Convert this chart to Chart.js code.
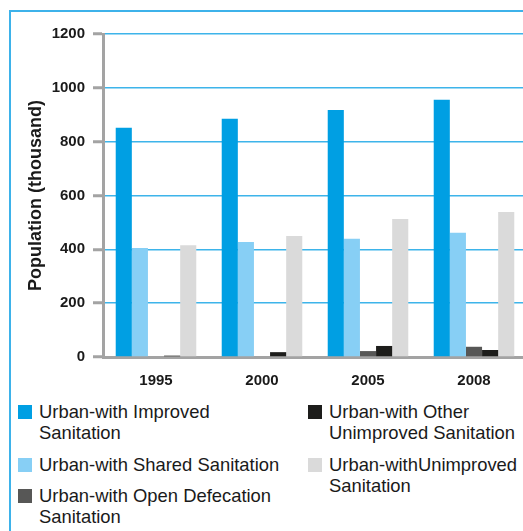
<!DOCTYPE html>
<html>
<head>
    <title>Urban population by sanitation</title>
    <script src="https://cdn.jsdelivr.net/npm/chart.js"></script>
    <style>
        body {
            margin: 0;
            width: 523px;
            height: 531px;
            overflow: hidden;
            position: relative;
            background: #fff;
            font-family: "Liberation Sans", Arial, sans-serif;
        }
        #frame {
            position: absolute;
            left: 9px;
            top: 10px;
            width: 700px;
            height: 700px;
            border-left: 2px solid #3db2ea;
            border-top: 2px solid #3db2ea;
        }
        #chart-box {
            position: absolute;
            left: 0;
            top: 0;
            width: 530px;
            height: 400px;
        }
        #legend {
            position: absolute;
            top: 401px;
            left: 18px;
            display: flex;
            font-size: 18.4px;
            line-height: 21px;
            color: #1a1a1a;
        }
        .col {
            display: flex;
            flex-direction: column;
        }
        .col + .col {
            margin-left: 22px;
        }
        .item {
            display: flex;
            align-items: flex-start;
            margin-bottom: 10.5px;
        }
        .swatch {
            width: 14px;
            height: 14px;
            margin-top: 4px;
            margin-right: 7px;
            flex: none;
        }
    </style>
</head>
<body>

<div id="frame"></div>
<div id="chart-box">
    <canvas id="barChart" width="530" height="400"></canvas>
</div>
<div id="legend"></div>

<script>
    // data (thousand people)
    const years = ['1995', '2000', '2005', '2008'];
    const improved = [852, 885, 918, 956];
    const shared = [405, 427, 439, 462];
    const openDefecation = [0, 0, 22, 38];
    const otherUnimproved = [5, 18, 41, 26];
    const unimproved = [415, 450, 513, 539];
    const yTicks = [0, 200, 400, 600, 800, 1000, 1200];

    const seriesNames = [
        ['Urban-with Improved', 'Sanitation'],
        ['Urban-with Shared Sanitation'],
        ['Urban-with Open Defecation', 'Sanitation'],
        ['Urban-with Other', 'Unimproved Sanitation'],
        ['Urban-withUnimproved', 'Sanitation']
    ];
    const seriesValues = [improved, shared, openDefecation, otherUnimproved, unimproved];
    const colors = ['#009fe3', '#87cff5', '#575756', '#1d1d1b', '#dadada'];
    // which legend column each series goes in
    const legendColumns = [[0, 1, 2], [3, 4]];

    const gridBlue = '#3db4ea';
    const axisGray = '#a3a3a3';

    const datasets = seriesValues.map((vals, i) => ({
        label: seriesNames[i].join(' '),
        data: vals,
        backgroundColor: colors[i],
        borderWidth: 0,
        barPercentage: 1,
        categoryPercentage: 0.76
    }));

    const ctx = document.getElementById('barChart').getContext('2d');
    new Chart(ctx, {
        type: 'bar',
        data: {
            labels: years,
            datasets: datasets
        },
        options: {
            responsive: false,
            animation: false,
            layout: {
                padding: { left: 20, top: 34, right: 3, bottom: 0 }
            },
            plugins: {
                legend: { display: false },
                tooltip: { enabled: false }
            },
            scales: {
                x: {
                    grid: { display: false, drawTicks: false },
                    border: { display: true, color: axisGray, width: 3 },
                    ticks: {
                        color: '#1a1a1a',
                        padding: 15,
                        font: { family: 'Liberation Sans', size: 15, weight: 'bold' }
                    },
                    afterFit: (scale) => { scale.height = 43; }
                },
                y: {
                    min: 0,
                    max: 1200,
                    afterBuildTicks: (scale) => {
                        scale.ticks = yTicks.map(v => ({ value: v }));
                    },
                    grid: {
                        color: (c) => (c.tick && c.tick.value === 0) ? 'rgba(0,0,0,0)' : gridBlue,
                        lineWidth: 1.5,
                        tickColor: axisGray,
                        tickWidth: 3,
                        tickLength: 10
                    },
                    border: { display: true, color: axisGray, width: 3 },
                    ticks: {
                        color: '#1a1a1a',
                        padding: 8,
                        callback: (v) => String(v),
                        font: { family: 'Liberation Sans', size: 15, weight: 'bold' }
                    },
                    title: {
                        display: true,
                        text: 'Population (thousand)',
                        color: '#1a1a1a',
                        padding: { top: 5, bottom: 4 },
                        font: { family: 'Liberation Sans', size: 18, weight: 'bold' }
                    },
                    afterFit: (scale) => { scale.width = 83; }
                }
            }
        }
    });

    // legend in two columns, as in the printed figure
    const legendDiv = document.getElementById('legend');
    legendColumns.forEach((idxs, c) => {
        const col = document.createElement('div');
        col.className = 'col';
        if (c === 0) col.style.width = '268px';
        idxs.forEach(i => {
            const item = document.createElement('div');
            item.className = 'item';
            const sw = document.createElement('span');
            sw.className = 'swatch';
            sw.style.background = colors[i];
            const txt = document.createElement('span');
            txt.innerHTML = seriesNames[i].join('<br>');
            item.appendChild(sw);
            item.appendChild(txt);
            col.appendChild(item);
        });
        legendDiv.appendChild(col);
    });
</script>

</body>
</html>
